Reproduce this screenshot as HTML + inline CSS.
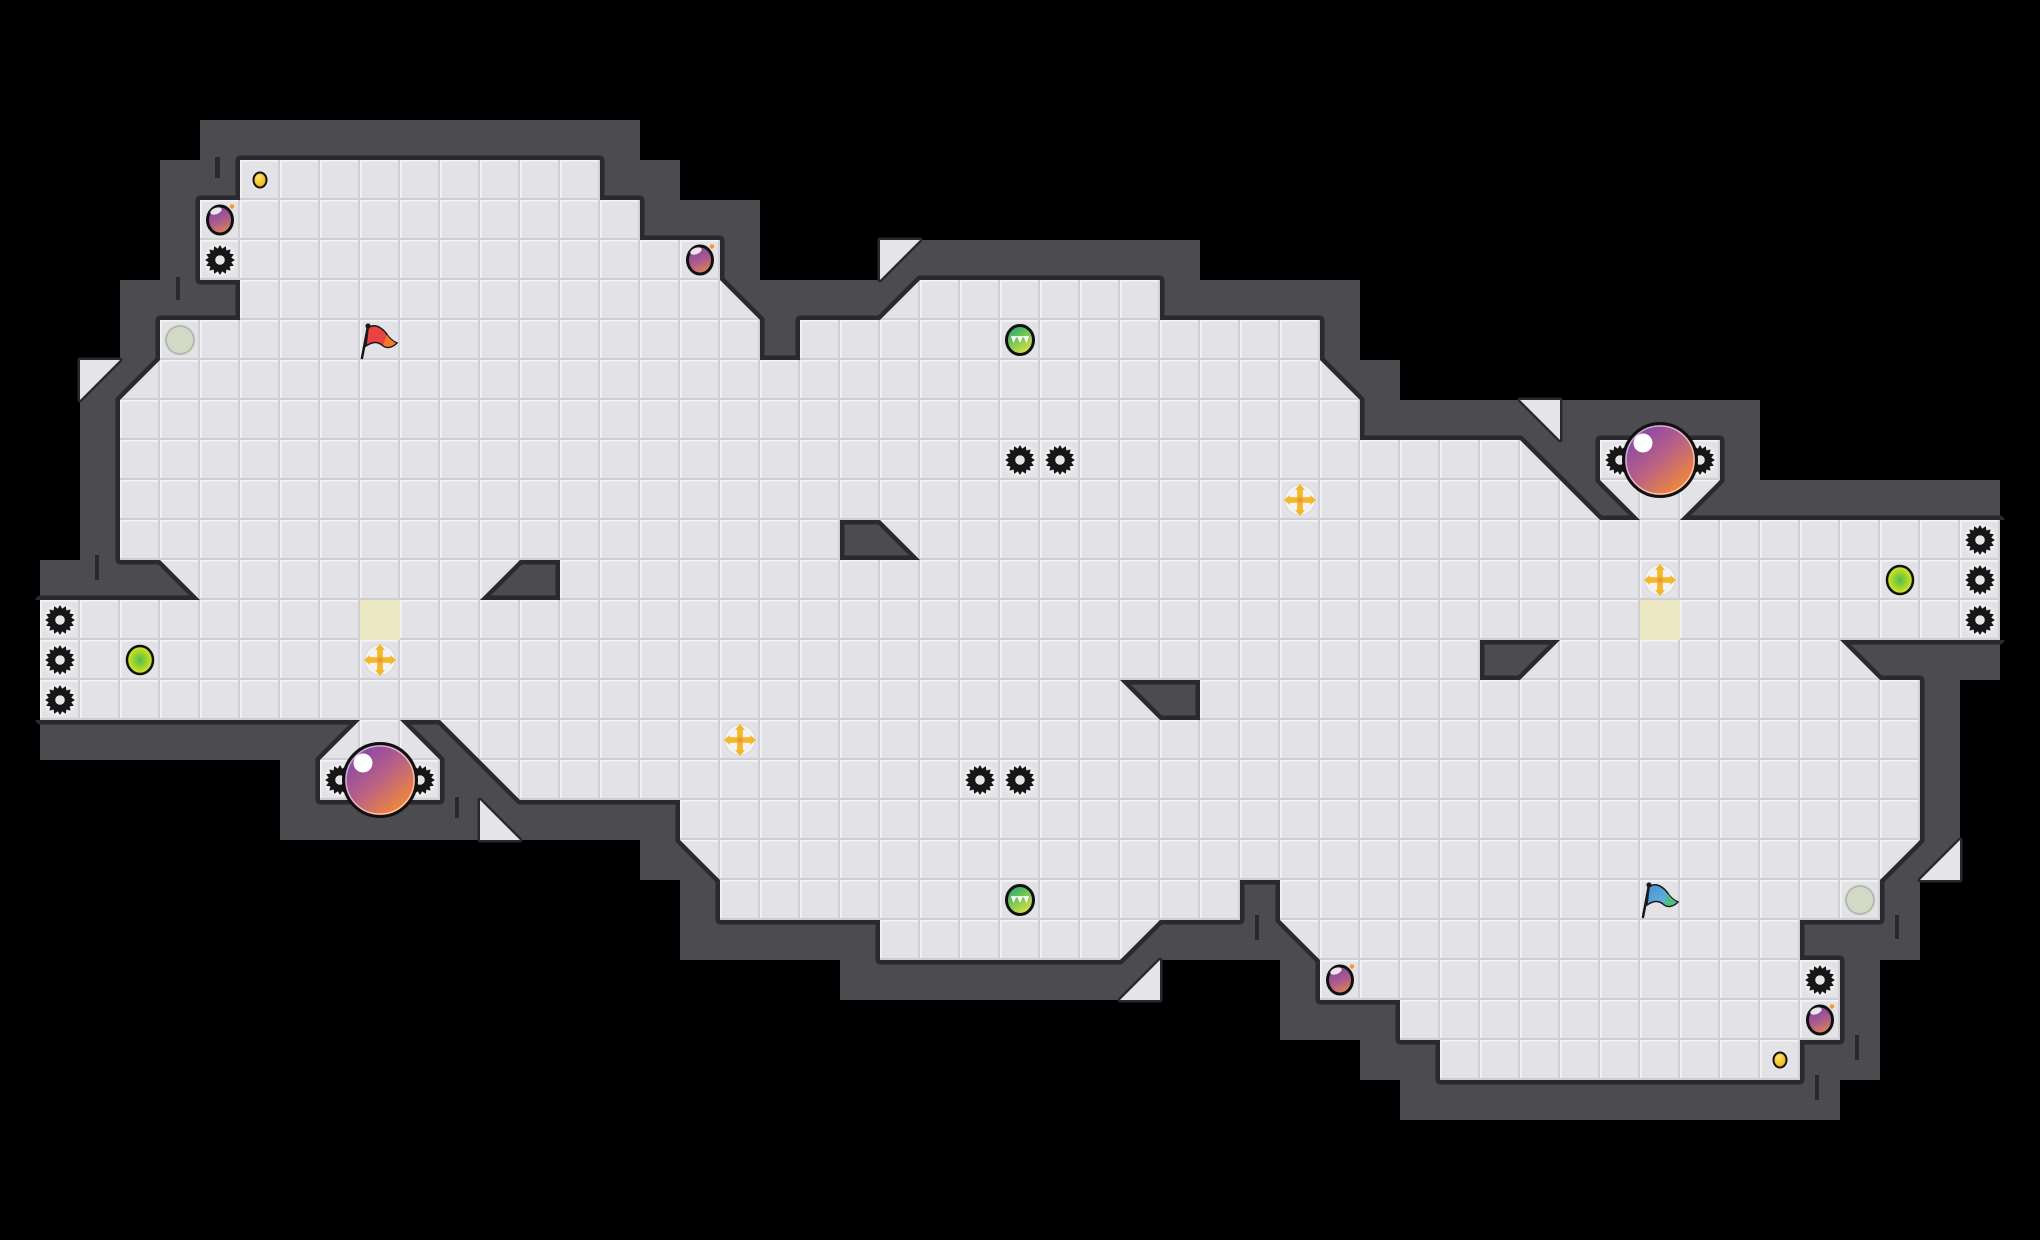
<!DOCTYPE html>
<html><head><meta charset="utf-8"><style>html,body{margin:0;padding:0;background:#000;}svg{display:block;}</style></head>
<body>
<svg xmlns="http://www.w3.org/2000/svg" xmlns:xlink="http://www.w3.org/1999/xlink" width="2040" height="1240" viewBox="0 0 2040 1240">
<defs>
<pattern id="tile" width="40" height="40" patternUnits="userSpaceOnUse">
<rect width="40" height="40" fill="#e3e3e7"/>
<rect width="40" height="1.5" fill="#f4f4f6"/><rect width="1.5" height="40" fill="#f4f4f6"/>
<rect y="38" width="40" height="2" fill="#cfcfd4"/><rect x="38" width="2" height="40" fill="#cfcfd4"/>
</pattern>
<linearGradient id="bombG" x1="0.2" y1="0" x2="0.6" y2="1"><stop offset="0" stop-color="#7e45a6"/><stop offset="0.55" stop-color="#a85a8c"/><stop offset="1" stop-color="#e08358"/></linearGradient>
<linearGradient id="bubG" x1="0.15" y1="0.1" x2="0.85" y2="0.9"><stop offset="0" stop-color="#8446aa"/><stop offset="0.5" stop-color="#bb6284"/><stop offset="1" stop-color="#f48c30"/></linearGradient>
<linearGradient id="gemG" x1="0.2" y1="0" x2="0.8" y2="1"><stop offset="0" stop-color="#1fa873"/><stop offset="1" stop-color="#e6e83a"/></linearGradient>
<radialGradient id="discG" cx="0.5" cy="0.5" r="0.55"><stop offset="0" stop-color="#52ba48"/><stop offset="1" stop-color="#e9ee1c"/></radialGradient>
<radialGradient id="coinG" cx="0.4" cy="0.35" r="0.7"><stop offset="0" stop-color="#ffe46a"/><stop offset="1" stop-color="#f2ae00"/></radialGradient>
<linearGradient id="blueG" x1="0" y1="0" x2="1" y2="1"><stop offset="0" stop-color="#4b8fd6"/><stop offset="1" stop-color="#6cc0e0"/></linearGradient>

<g id="gear">
<circle r="16.5" fill="#ffffff" opacity="0.35"/>
<polygon fill="#161616" points="15,0 11.28,2.24 13.86,5.74 9.56,6.39 10.61,10.61 6.39,9.56 5.74,13.86 2.24,11.28 0,15 -2.24,11.28 -5.74,13.86 -6.39,9.56 -10.61,10.61 -9.56,6.39 -13.86,5.74 -11.28,2.24 -15,0 -11.28,-2.24 -13.86,-5.74 -9.56,-6.39 -10.61,-10.61 -6.39,-9.56 -5.74,-13.86 -2.24,-11.28 0,-15 2.24,-11.28 5.74,-13.86 6.39,-9.56 10.61,-10.61 9.56,-6.39 13.86,-5.74 11.28,-2.24"/>
<circle r="11.6" fill="#161616"/>
<circle r="4.8" fill="#e6e6ea"/>
</g>
<g id="bomb">
<ellipse rx="12.5" ry="14" fill="url(#bombG)" stroke="#111" stroke-width="3"/>
<ellipse cx="-4" cy="-9" rx="6" ry="3.2" fill="#fff" opacity="0.85" transform="rotate(-20 -4 -9)"/>
<circle cx="12" cy="-13.5" r="2.2" fill="#f39a2a"/>
</g>
<g id="bubble">
<circle r="36.5" fill="url(#bubG)" stroke="#111" stroke-width="3"/>
<circle r="34" fill="none" stroke="#fff" stroke-width="1.2" opacity="0.6"/>
<circle cx="-17" cy="-17" r="9.5" fill="#fff"/>
</g>
<g id="gem">
<ellipse rx="13.5" ry="14.5" fill="url(#gemG)" stroke="#111" stroke-width="3"/>
<polygon fill="#fff" points="-9,-3 -3.8,-3 -6.4,3"/>
<polygon fill="#fff" points="-2.6,-3 2.6,-3 0,3"/>
<polygon fill="#fff" points="3.8,-3 9,-3 6.4,3"/>
<rect x="-9" y="-4" width="18" height="1.5" fill="#fff" opacity="0.8"/>
</g>
<g id="cross">
<circle r="15" fill="#f4f4f6" stroke="#dcdce0" stroke-width="1"/>
<rect x="-2.8" y="-11" width="5.6" height="22" fill="#f7b629"/>
<rect x="-11" y="-2.8" width="22" height="5.6" fill="#f7b629"/>
<polygon fill="#f7b629" points="0,-16 -5,-10 5,-10"/>
<polygon fill="#f7b629" points="0,16 -5,10 5,10"/>
<polygon fill="#f7b629" points="-16,0 -10,-5 -10,5"/>
<polygon fill="#f7b629" points="16,0 10,-5 10,5"/>
<circle r="2.6" fill="#f0962a"/>
</g>
<g id="ydisc"><ellipse rx="13" ry="14" fill="url(#discG)" stroke="#111" stroke-width="2.5"/></g>
<g id="gdisc"><circle r="14" fill="#d3dbc5" stroke="#b7b8b1" stroke-width="2"/></g>
<g id="coin"><ellipse rx="6.5" ry="7.5" fill="url(#coinG)" stroke="#111" stroke-width="2"/></g>

<g id="fl">
<rect x="240" y="160" width="360" height="40"/>
<rect x="200" y="200" width="440" height="40"/>
<rect x="200" y="240" width="520" height="40"/>
<rect x="240" y="280" width="480" height="40"/>
<rect x="920" y="280" width="240" height="40"/>
<rect x="160" y="320" width="600" height="40"/>
<rect x="800" y="320" width="520" height="40"/>
<rect x="160" y="360" width="1160" height="40"/>
<rect x="120" y="400" width="1240" height="40"/>
<rect x="120" y="440" width="1400" height="40"/>
<rect x="1600" y="440" width="120" height="40"/>
<rect x="120" y="480" width="1440" height="40"/>
<rect x="1640" y="480" width="40" height="40"/>
<rect x="120" y="520" width="720" height="40"/>
<rect x="920" y="520" width="1080" height="40"/>
<rect x="200" y="560" width="280" height="40"/>
<rect x="560" y="560" width="1440" height="40"/>
<rect x="40" y="600" width="1960" height="40"/>
<rect x="40" y="640" width="1440" height="40"/>
<rect x="1560" y="640" width="280" height="40"/>
<rect x="40" y="680" width="1080" height="40"/>
<rect x="1200" y="680" width="720" height="40"/>
<rect x="360" y="720" width="40" height="40"/>
<rect x="480" y="720" width="1440" height="40"/>
<rect x="320" y="760" width="120" height="40"/>
<rect x="520" y="760" width="1400" height="40"/>
<rect x="680" y="800" width="1240" height="40"/>
<rect x="720" y="840" width="1160" height="40"/>
<rect x="720" y="880" width="520" height="40"/>
<rect x="1280" y="880" width="600" height="40"/>
<rect x="880" y="920" width="240" height="40"/>
<rect x="1320" y="920" width="480" height="40"/>
<rect x="1320" y="960" width="520" height="40"/>
<rect x="1400" y="1000" width="440" height="40"/>
<rect x="1440" y="1040" width="360" height="40"/>
<polygon points="160,360 160,400 120,400"/>
<polygon points="720,280 720,320 760,320"/>
<polygon points="920,280 920,320 880,320"/>
<polygon points="1320,360 1320,400 1360,400"/>
<polygon points="1520,440 1520,480 1560,480"/>
<polygon points="1560,480 1560,520 1600,520"/>
<polygon points="1600,480 1640,480 1640,520"/>
<polygon points="1680,480 1720,480 1680,520"/>
<polygon points="160,560 200,560 200,600"/>
<polygon points="480,560 520,560 480,600"/>
<polygon points="880,520 920,520 920,560"/>
<polygon points="1840,640 1840,680 1880,680"/>
<polygon points="1560,640 1560,680 1520,680"/>
<polygon points="1120,680 1120,720 1160,720"/>
<polygon points="360,720 360,760 320,760"/>
<polygon points="400,720 400,760 440,760"/>
<polygon points="440,720 480,720 480,760"/>
<polygon points="480,760 520,760 520,800"/>
<polygon points="680,840 720,840 720,880"/>
<polygon points="1880,840 1920,840 1880,880"/>
<polygon points="1120,920 1160,920 1120,960"/>
<polygon points="1280,920 1320,920 1320,960"/>
</g>
<g id="lt">
<polygon points="80,360 120,360 80,400"/>
<polygon points="880,240 920,240 880,280"/>
<polygon points="1520,400 1560,400 1560,440"/>
<polygon points="480,800 480,840 520,840"/>
<polygon points="1960,840 1960,880 1920,880"/>
<polygon points="1160,960 1160,1000 1120,1000"/>
</g>
</defs>

<rect width="2040" height="1240" fill="#000"/>

<g fill="#4b4b50">
<rect x="200" y="120" width="440" height="40"/>
<rect x="160" y="160" width="80" height="40"/>
<rect x="600" y="160" width="80" height="40"/>
<rect x="160" y="200" width="40" height="80"/>
<rect x="640" y="200" width="120" height="40"/>
<rect x="720" y="240" width="40" height="40"/>
<rect x="920" y="240" width="280" height="40"/>
<rect x="120" y="280" width="120" height="40"/>
<rect x="760" y="280" width="120" height="40"/>
<rect x="1160" y="280" width="200" height="40"/>
<rect x="120" y="320" width="40" height="40"/>
<rect x="760" y="320" width="40" height="40"/>
<rect x="1320" y="320" width="40" height="40"/>
<rect x="1360" y="360" width="40" height="40"/>
<rect x="80" y="400" width="40" height="160"/>
<rect x="1360" y="400" width="160" height="40"/>
<rect x="1560" y="400" width="200" height="40"/>
<rect x="1560" y="440" width="40" height="40"/>
<rect x="1720" y="440" width="40" height="40"/>
<rect x="1720" y="480" width="280" height="40"/>
<rect x="840" y="520" width="40" height="40"/>
<rect x="40" y="560" width="120" height="40"/>
<rect x="520" y="560" width="40" height="40"/>
<rect x="1480" y="640" width="40" height="40"/>
<rect x="1880" y="640" width="120" height="40"/>
<rect x="1160" y="680" width="40" height="40"/>
<rect x="1920" y="680" width="40" height="160"/>
<rect x="40" y="720" width="280" height="40"/>
<rect x="280" y="760" width="40" height="40"/>
<rect x="440" y="760" width="40" height="40"/>
<rect x="280" y="800" width="200" height="40"/>
<rect x="520" y="800" width="160" height="40"/>
<rect x="640" y="840" width="40" height="40"/>
<rect x="680" y="880" width="40" height="40"/>
<rect x="1240" y="880" width="40" height="40"/>
<rect x="1880" y="880" width="40" height="40"/>
<rect x="680" y="920" width="200" height="40"/>
<rect x="1160" y="920" width="120" height="40"/>
<rect x="1800" y="920" width="120" height="40"/>
<rect x="840" y="960" width="280" height="40"/>
<rect x="1280" y="960" width="40" height="40"/>
<rect x="1840" y="960" width="40" height="80"/>
<rect x="1280" y="1000" width="120" height="40"/>
<rect x="1360" y="1040" width="80" height="40"/>
<rect x="1800" y="1040" width="80" height="40"/>
<rect x="1400" y="1080" width="440" height="40"/>
<polygon points="120,360 120,400 80,400"/>
<polygon points="120,360 160,360 120,400"/>
<polygon points="720,280 760,280 760,320"/>
<polygon points="920,240 920,280 880,280"/>
<polygon points="880,280 920,280 880,320"/>
<polygon points="1320,360 1360,360 1360,400"/>
<polygon points="1520,400 1520,440 1560,440"/>
<polygon points="1520,440 1560,440 1560,480"/>
<polygon points="1560,480 1600,480 1600,520"/>
<polygon points="1600,480 1600,520 1640,520"/>
<polygon points="1720,480 1720,520 1680,520"/>
<polygon points="160,560 160,600 200,600"/>
<polygon points="520,560 520,600 480,600"/>
<polygon points="880,520 880,560 920,560"/>
<polygon points="1840,640 1880,640 1880,680"/>
<polygon points="1520,640 1560,640 1520,680"/>
<polygon points="1120,680 1160,680 1160,720"/>
<polygon points="320,720 360,720 320,760"/>
<polygon points="400,720 440,720 440,760"/>
<polygon points="440,720 440,760 480,760"/>
<polygon points="480,760 480,800 520,800"/>
<polygon points="480,800 520,800 520,840"/>
<polygon points="680,840 680,880 720,880"/>
<polygon points="1920,840 1920,880 1880,880"/>
<polygon points="1920,840 1960,840 1920,880"/>
<polygon points="1160,920 1160,960 1120,960"/>
<polygon points="1120,960 1160,960 1120,1000"/>
<polygon points="1280,920 1280,960 1320,960"/>
</g>

<g fill="#2a2a2e">
<rect x="215" y="157" width="5" height="21"/>
<rect x="176" y="277" width="4" height="23"/>
<rect x="95" y="555" width="4" height="25"/>
<rect x="455" y="797" width="4" height="21"/>
<rect x="1255" y="915" width="4" height="25"/>
<rect x="1895" y="915" width="4" height="24"/>
<rect x="1855" y="1035" width="4" height="25"/>
<rect x="1815" y="1075" width="4" height="25"/>
</g>

<use xlink:href="#fl" href="#fl" fill="#2a2a2e" stroke="#2a2a2e" stroke-width="9" stroke-linejoin="round"/>
<use xlink:href="#lt" href="#lt" fill="#2a2a2e" stroke="#2a2a2e" stroke-width="5" stroke-linejoin="round"/>
<rect x="0" y="600" width="40" height="120" fill="#000"/>
<rect x="2000" y="520" width="40" height="120" fill="#000"/>
<use xlink:href="#fl" href="#fl" fill="url(#tile)"/>
<use xlink:href="#lt" href="#lt" fill="#e4e4e8"/>

<rect x="360" y="600" width="40" height="40" fill="#ebe8c3"/>
<rect x="1640" y="600" width="40" height="40" fill="#ebe8c3"/>

<use href="#coin" xlink:href="#coin" x="260" y="180"/>
<use href="#coin" xlink:href="#coin" x="1780" y="1060"/>
<use href="#bomb" xlink:href="#bomb" x="220" y="220"/>
<use href="#bomb" xlink:href="#bomb" x="700" y="260"/>
<use href="#bomb" xlink:href="#bomb" x="1340" y="980"/>
<use href="#bomb" xlink:href="#bomb" x="1820" y="1020"/>
<use href="#gear" xlink:href="#gear" x="220" y="260"/>
<use href="#gear" xlink:href="#gear" x="1020" y="460"/>
<use href="#gear" xlink:href="#gear" x="1060" y="460"/>
<use href="#gear" xlink:href="#gear" x="1980" y="540"/>
<use href="#gear" xlink:href="#gear" x="1980" y="580"/>
<use href="#gear" xlink:href="#gear" x="1980" y="620"/>
<use href="#gear" xlink:href="#gear" x="60" y="620"/>
<use href="#gear" xlink:href="#gear" x="60" y="660"/>
<use href="#gear" xlink:href="#gear" x="60" y="700"/>
<use href="#gear" xlink:href="#gear" x="980" y="780"/>
<use href="#gear" xlink:href="#gear" x="1020" y="780"/>
<use href="#gear" xlink:href="#gear" x="1820" y="980"/>
<use href="#gear" xlink:href="#gear" x="1620" y="460"/>
<use href="#gear" xlink:href="#gear" x="1700" y="460"/>
<use href="#gear" xlink:href="#gear" x="340" y="780"/>
<use href="#gear" xlink:href="#gear" x="420" y="780"/>
<use href="#bubble" xlink:href="#bubble" x="1660" y="460"/>
<use href="#bubble" xlink:href="#bubble" x="380" y="780"/>
<use href="#gdisc" xlink:href="#gdisc" x="180" y="340"/>
<use href="#gdisc" xlink:href="#gdisc" x="1860" y="900"/>
<use href="#gem" xlink:href="#gem" x="1020" y="340"/>
<use href="#gem" xlink:href="#gem" x="1020" y="900"/>
<use href="#cross" xlink:href="#cross" x="1300" y="500"/>
<use href="#cross" xlink:href="#cross" x="1660" y="580"/>
<use href="#cross" xlink:href="#cross" x="380" y="660"/>
<use href="#cross" xlink:href="#cross" x="740" y="740"/>
<use href="#ydisc" xlink:href="#ydisc" x="1900" y="580"/>
<use href="#ydisc" xlink:href="#ydisc" x="140" y="660"/>

<g>
<path d="M368,328 C374,323 381,327 386,333 C389,338 392,341 397,343 C392,348 386,349 382,345 C377,341 372,342 366,346 Z" fill="#e84242" stroke="#1a1a1a" stroke-width="1.5"/>
<path d="M387,335 C389,338 392,341 396,343 C392,347 387,348 383,345 Z" fill="#f07a28"/>
<line x1="362" y1="358" x2="368" y2="326" stroke="#1a1a1a" stroke-width="2.5" stroke-linecap="round"/>
<circle cx="368" cy="326" r="2.6" fill="#1a1a1a"/>
</g>
<g transform="translate(1281,559)">
<path d="M368,328 C374,323 381,327 386,333 C389,338 392,341 397,343 C392,348 386,349 382,345 C377,341 372,342 366,346 Z" fill="url(#blueG)" stroke="#1a1a1a" stroke-width="1.5"/>
<path d="M387,335 C389,338 392,341 396,343 C392,347 387,348 383,345 Z" fill="#4cc07e"/>
<line x1="362" y1="358" x2="368" y2="326" stroke="#1a1a1a" stroke-width="2.5" stroke-linecap="round"/>
<circle cx="368" cy="326" r="2.6" fill="#1a1a1a"/>
</g>
</svg>
</body></html>
